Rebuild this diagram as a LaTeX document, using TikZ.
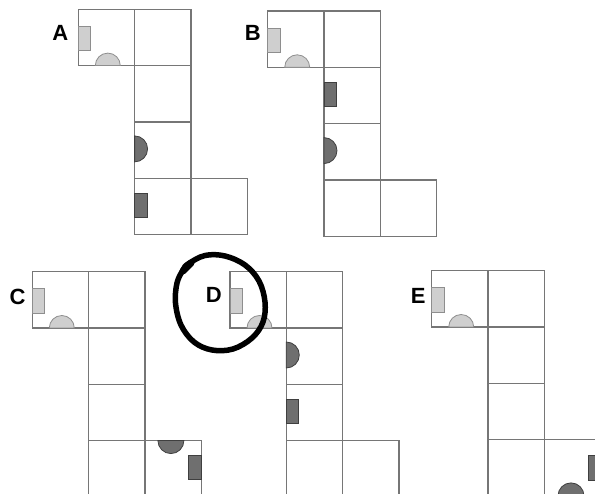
\documentclass[tikz,border=0pt]{standalone}
\usepackage{fontspec}
\setmainfont{Liberation Sans}
\usetikzlibrary{positioning}
\definecolor{netline}{HTML}{767676}
\definecolor{lightmark}{HTML}{CFCFCF}
\definecolor{lightedge}{HTML}{8E8E8E}
\definecolor{darkmark}{HTML}{6F6F6F}
\definecolor{darkedge}{HTML}{3F3F3F}
\newcommand{\cell}{56.3}

\begin{document}
\begin{tikzpicture}[x=1pt,y=-1pt,
    face/.style={draw=netline, line width=1.3pt},
    lightpart/.style={fill=lightmark, draw=lightedge, line width=0.8pt},
    darkpart/.style={fill=darkmark, draw=darkedge, line width=0.8pt},
    netlabel/.style={font=\fontsize{22}{22}\selectfont\bfseries, inner sep=0pt},
    pen/.style={line width=5.5pt, line cap=round, line join=round}]
  \useasboundingbox (0,0) rectangle (595,494);
  \clip (0,0) rectangle (595,494);

  % option labels
  \node[netlabel] (labA) at (60.2,33) {A};
  \node[netlabel] (labB) at (252.7,32.5) {B};
  \node[netlabel] (labC) at (17.5,297.3) {C};
  \node[netlabel] (labD) at (213.8,295.3) {D};
  \node[netlabel] (labE) at (418.3,295.7) {E};

  % net A
  \begin{scope}[shift={(78.3,9.3)}]
    \foreach \c/\r in {0/0,1/0,1/1,1/2,1/3,2/3}
      \draw[face] (\c*\cell,\r*\cell) rectangle ++(\cell,\cell);
    \draw[lightpart] (0,17) rectangle (12.5,41.5);
    \draw[lightpart] (17,\cell) arc[start angle=180,end angle=360,radius=12.5] -- cycle;
    \draw[darkpart] (\cell,2*\cell+14) arc[start angle=270,end angle=450,radius=13] -- cycle;
    \draw[darkpart] (\cell,3*\cell+15) rectangle ++(12.5,24.5);
  \end{scope}

  % net B
  \begin{scope}[shift={(267.7,11)}]
    \foreach \c/\r in {0/0,1/0,1/1,1/2,1/3,2/3}
      \draw[face] (\c*\cell,\r*\cell) rectangle ++(\cell,\cell);
    \draw[lightpart] (0,17) rectangle (12.5,41.5);
    \draw[lightpart] (17,\cell) arc[start angle=180,end angle=360,radius=12.5] -- cycle;
    \draw[darkpart] (\cell,\cell+15) rectangle ++(12.5,24.5);
    \draw[darkpart] (\cell,2*\cell+14) arc[start angle=270,end angle=450,radius=13] -- cycle;
  \end{scope}

  % net C
  \begin{scope}[shift={(32.3,271.7)}]
    \foreach \c/\r in {0/0,1/0,1/1,1/2,1/3,2/3}
      \draw[face] (\c*\cell,\r*\cell) rectangle ++(\cell,\cell);
    \draw[lightpart] (0,17) rectangle (12.5,41.5);
    \draw[lightpart] (17,\cell) arc[start angle=180,end angle=360,radius=12.5] -- cycle;
    \draw[darkpart] (2*\cell+39,3*\cell) arc[start angle=0,end angle=180,radius=13] -- cycle;
    \draw[darkpart] (3*\cell-12.5,3*\cell+14.5) rectangle ++(12.5,24.5);
  \end{scope}

  % net D
  \begin{scope}[shift={(230,271.7)}]
    \foreach \c/\r in {0/0,1/0,1/1,1/2,1/3,2/3}
      \draw[face] (\c*\cell,\r*\cell) rectangle ++(\cell,\cell);
    \draw[lightpart] (0,17) rectangle (12.5,41.5);
    \draw[lightpart] (17,\cell) arc[start angle=180,end angle=360,radius=12.5] -- cycle;
    \draw[darkpart] (\cell,\cell+14) arc[start angle=270,end angle=450,radius=13] -- cycle;
    \draw[darkpart] (\cell,2*\cell+15) rectangle ++(12.5,24.5);
  \end{scope}

  % net E
  \begin{scope}[shift={(431.7,270.7)}]
    \foreach \c/\r in {0/0,1/0,1/1,1/2,1/3,2/3}
      \draw[face] (\c*\cell,\r*\cell) rectangle ++(\cell,\cell);
    \draw[lightpart] (0,17) rectangle (12.5,41.5);
    \draw[lightpart] (17,\cell) arc[start angle=180,end angle=360,radius=12.5] -- cycle;
    \draw[darkpart] (2*\cell+13.7,4*\cell) arc[start angle=180,end angle=360,radius=13] -- cycle;
    \draw[darkpart] (3*\cell-12.5,3*\cell+16) rectangle ++(12.5,24.5);
  \end{scope}

  % hand-drawn ring round D
  \draw[pen] plot[smooth cycle, tension=0.6] coordinates {
    (188,264) (205,255.5) (225,256) (245,265) (259,281) (265,302)
    (263,322) (252,338) (233,349) (212,350) (194,342) (181,325)
    (175.5,303) (177,283) (183,270)};
  \draw[pen, line width=7pt] (183,271) -- (191,263);
\end{tikzpicture}
\end{document}
